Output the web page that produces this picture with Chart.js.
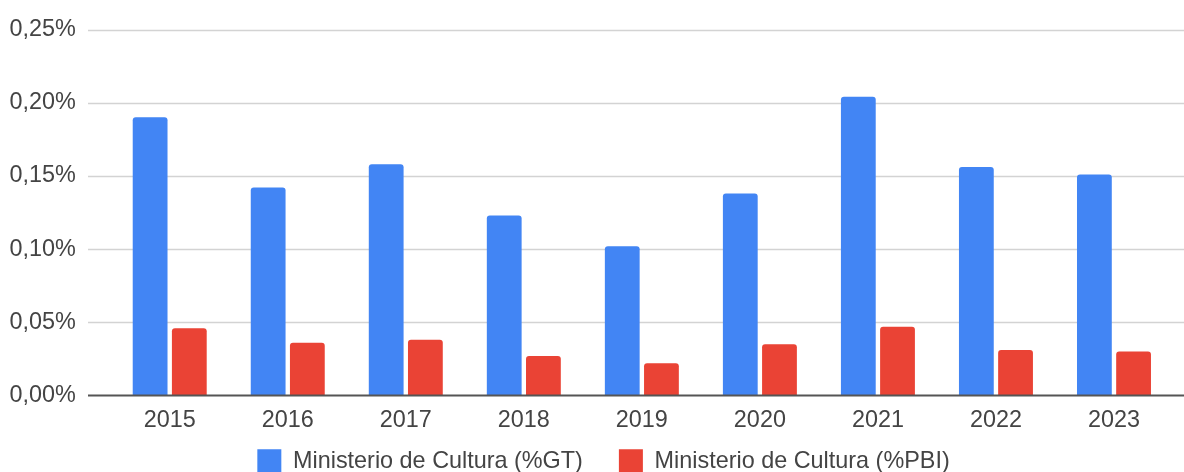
<!DOCTYPE html>
<html>
<head>
<meta charset="utf-8">
<script src="https://cdn.jsdelivr.net/npm/chart.js@4/dist/chart.umd.min.js"></script>
<style>
  html, body { margin: 0; padding: 0; background: #ffffff; overflow: hidden; }
  #wrap { position: relative; width: 1184px; height: 472px; }
</style>
</head>
<body>
<div id="wrap"><canvas id="c" width="1184" height="472"></canvas></div>
<script>
// ---- data ----
const categories = ['2015', '2016', '2017', '2018', '2019', '2020', '2021', '2022', '2023'];
const seriesGT  = [0.190, 0.142, 0.158, 0.123, 0.102, 0.138, 0.204, 0.156, 0.151];
const seriesPBI = [0.046, 0.036, 0.038, 0.027, 0.022, 0.035, 0.047, 0.031, 0.030];
const seriesNames = ['Ministerio de Cultura (%GT)', 'Ministerio de Cultura (%PBI)'];
const yTicks = [0, 0.05, 0.10, 0.15, 0.20, 0.25];

const FONT = '"Liberation Sans", Arial, sans-serif';
const FS = 23.4;
const LEG_PAD = 36;

const gridPlugin = {
  id: 'gridExt',
  afterLayout(chart) {
    const lg = chart.legend;
    if (lg) {
      lg.top = 449.3 - LEG_PAD;
      lg.left += 13;
      lg.right += 13;
    }
  },
  beforeDatasetsDraw(chart) {
    const y = chart.scales.y, ctx = chart.ctx;
    ctx.save();
    ctx.strokeStyle = '#d3d3d3';
    ctx.lineWidth = 1.3;
    y.ticks.forEach(t => {
      if (t.value === 0) return;
      const py = Math.round(y.getPixelForValue(t.value)) + 0.5;
      ctx.beginPath(); ctx.moveTo(88, py); ctx.lineTo(chart.width, py); ctx.stroke();
    });
    ctx.restore();
  },
  afterDatasetsDraw(chart) {
    const y = chart.scales.y, ctx = chart.ctx;
    const py = y.getPixelForValue(0);
    ctx.save();
    ctx.strokeStyle = '#555555';
    ctx.lineWidth = 1.8;
    ctx.beginPath(); ctx.moveTo(88, py); ctx.lineTo(chart.width, py); ctx.stroke();
    ctx.restore();
  }
};

new Chart(document.getElementById('c'), {
  type: 'bar',
  data: {
    labels: categories,
    datasets: [
      { label: seriesNames[0], data: seriesGT, backgroundColor: '#4285F4',
        borderRadius: { topLeft: 3, topRight: 3 }, borderSkipped: 'bottom' },
      { label: seriesNames[1], data: seriesPBI, backgroundColor: '#EA4335',
        borderRadius: { topLeft: 3, topRight: 3 }, borderSkipped: 'bottom' }
    ]
  },
  options: {
    responsive: false,
    animation: false,
    devicePixelRatio: 1,
    categoryPercentage: 0.664,
    barPercentage: 0.888,
    layout: { padding: { left: 8, right: 11, top: 29.5, bottom: 0 } },
    plugins: {
      tooltip: { enabled: false },
      legend: {
        position: 'bottom',
        maxHeight: 36.5,
        labels: {
          boxWidth: 24, boxHeight: 24, padding: LEG_PAD,
          color: '#444444',
          font: { family: FONT, size: FS }
        }
      }
    },
    scales: {
      x: {
        grid: { display: false, drawTicks: false },
        border: { display: false },
        ticks: { color: '#444444', font: { family: FONT, size: FS }, padding: 11 },
        afterFit: s => { s.height = 40; }
      },
      y: {
        min: 0, max: 0.25,
        grid: { display: true, drawOnChartArea: false, drawTicks: true, tickLength: 30, color: 'rgba(0,0,0,0)' },
        border: { display: false },
        afterBuildTicks: s => { s.ticks = yTicks.map(v => ({ value: v })); },
        ticks: {
          color: '#444444', font: { family: FONT, size: FS }, padding: 5,
          callback: v => v.toFixed(2).replace('.', ',') + '%'
        },
        afterFit: s => { s.width = 102.7; }
      }
    }
  },
  plugins: [gridPlugin]
});
</script>
</body>
</html>
